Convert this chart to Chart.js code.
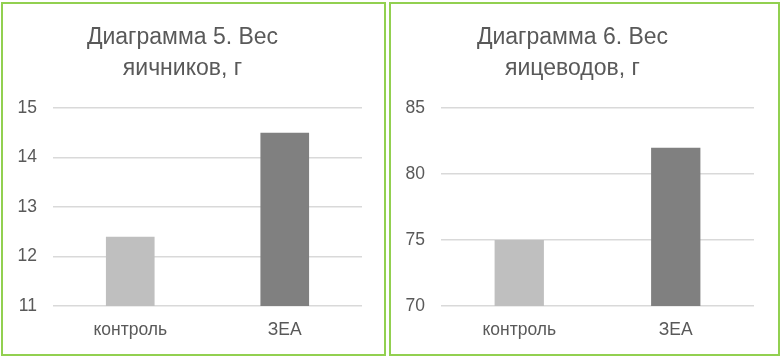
<!DOCTYPE html>
<html>
<head>
<meta charset="utf-8">
<script src="https://cdn.jsdelivr.net/npm/chart.js@4"></script>
<style>
  body { margin: 0; background: #fff; width: 782px; height: 360px; position: relative; overflow: hidden; }
  .box { position: absolute; top: 2px; height: 354px; border: 2px solid #92d050; box-sizing: border-box; }
  #box1 { left: 1px; width: 385px; }
  #box2 { left: 389px; width: 391px; }
  canvas { display: block; }
</style>
</head>
<body>
<div class="box" id="box1"><canvas id="chart1" width="381" height="350"></canvas></div>
<div class="box" id="box2"><canvas id="chart2" width="387" height="350"></canvas></div>
<script>
// categories and values
const categories = ['контроль', 'ЗЕА'];
const ovaryWeight = [12.4, 14.5];
const oviductWeight = [75, 82];
const title1 = ['Диаграмма 5. Вес', 'яичников, г'];
const title2 = ['Диаграмма 6. Вес', 'яицеводов, г'];

const textColor = '#595959';
const fontFamily = '"Liberation Sans", Arial, sans-serif';

function makeChart(id, title, values, yMin, yMax, step, rightPad) {
    const ctx = document.getElementById(id).getContext('2d');
    return new Chart(ctx, {
        type: 'bar',
        data: {
            labels: categories,
            datasets: [{
                data: values,
                backgroundColor: ['#bfbfbf', '#808080'],
                barPercentage: 0.315,
                categoryPercentage: 1
            }]
        },
        options: {
            responsive: false,
            animation: false,
            layout: { padding: { left: 0, right: rightPad, top: 0, bottom: 0 } },
            plugins: {
                legend: { display: false },
                tooltip: { enabled: false },
                title: {
                    display: true,
                    text: title,
                    color: textColor,
                    font: { family: fontFamily, size: 23, weight: 'normal', lineHeight: 1.35 },
                    padding: { top: 18, bottom: 24 }
                }
            },
            scales: {
                x: {
                    grid: { display: false, drawTicks: false },
                    border: { display: false },
                    ticks: { color: textColor, font: { family: fontFamily, size: 17.5 }, padding: 14 },
                    afterFit: (s) => { s.height = 48; }
                },
                y: {
                    min: yMin,
                    max: yMax,
                    grid: { color: '#d9d9d9', lineWidth: 1.5, drawTicks: false },
                    border: { display: false },
                    ticks: { stepSize: step, color: textColor, font: { family: fontFamily, size: 17.5 }, padding: 16 },
                    afterFit: (s) => { s.width = 50; }
                }
            }
        }
    });
}

makeChart('chart1', title1, ovaryWeight, 11, 15, 1, 22);
makeChart('chart2', title2, oviductWeight, 70, 85, 5, 24);
</script>
</body>
</html>
